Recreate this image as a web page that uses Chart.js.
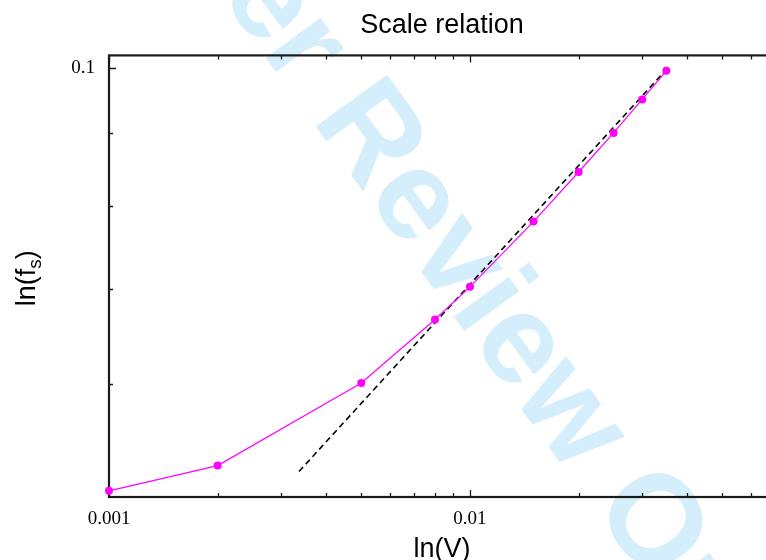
<!DOCTYPE html>
<html>
<head>
<meta charset="utf-8">
<title>Scale relation</title>
<script src="https://cdn.jsdelivr.net/npm/chart.js@4"></script>
<style>
  html, body { margin: 0; padding: 0; background: #fff; overflow: hidden; }
  #wrap { width: 884px; height: 560px; }
</style>
</head>
<body>
<div id="wrap"><canvas id="chart" width="884" height="560"></canvas></div>
<script>
// measured series
const volume = [0.001, 0.002, 0.005, 0.008, 0.01, 0.015, 0.02, 0.025, 0.03, 0.035];
const frequency = [0.0505, 0.0526, 0.0601, 0.0666, 0.0702, 0.078, 0.0845, 0.09, 0.095, 0.0995];

// power-law fit, drawn between its two end points
const fitVolume = [0.00336, 0.035];
const fitFrequency = [0.0521, 0.0997];

// axis ranges and tick marks
const xRange = [0.001, 0.07];
const yRange = [0.05, 0.102];
const xMajorTicks = [0.001, 0.01];
const xMinorTicks = [0.002, 0.003, 0.004, 0.005, 0.006, 0.007, 0.008, 0.009, 0.02, 0.03, 0.04, 0.05, 0.06];
const yMajorTicks = [0.1];
const yMinorTicks = [0.06, 0.07, 0.08, 0.09];

const toPoints = (xs, ys) => xs.map((x, i) => ({ x, y: ys[i] }));

const AXIS_COLOR = "#1a1a1a";
const SANS = '"Liberation Sans", Arial, sans-serif';
const SERIF = '"Liberation Serif", "Times New Roman", serif';

// faint diagonal stamp behind the plot
const stampPlugin = {
    id: "stamp",
    beforeDraw(chart) {
        const ctx = chart.ctx;
        const size = 128;
        ctx.save();
        ctx.translate(375, 130);
        ctx.rotate((54 * Math.PI) / 180);
        ctx.font = `bold ${size}px ${SANS}`;
        ctx.fillStyle = "rgb(213, 238, 251)";
        ctx.textBaseline = "alphabetic";
        const pre = ctx.measureText("For Peer ").width;
        const r = ctx.measureText("R").width;
        ctx.fillText("For Peer Review Only", -pre - r / 2, size * 0.358);
        ctx.restore();
    },
};

// boxed frame with inward ticks on every side
const framePlugin = {
    id: "frame",
    beforeDatasetsDraw(chart) {
        const { ctx, chartArea: a, scales } = chart;
        const xs = scales.x;
        const ys = scales.y;
        ctx.save();
        ctx.strokeStyle = AXIS_COLOR;
        ctx.lineWidth = 1.3;
        const xTick = (v, len) => {
            const px = Math.round(xs.getPixelForValue(v)) + 0.5;
            ctx.beginPath();
            ctx.moveTo(px, a.bottom);
            ctx.lineTo(px, a.bottom - len);
            ctx.moveTo(px, a.top);
            ctx.lineTo(px, a.top + len);
            ctx.stroke();
        };
        const yTick = (v, len) => {
            const py = Math.round(ys.getPixelForValue(v)) + 0.5;
            ctx.beginPath();
            ctx.moveTo(a.left, py);
            ctx.lineTo(a.left + len, py);
            ctx.moveTo(a.right, py);
            ctx.lineTo(a.right - len, py);
            ctx.stroke();
        };
        xMajorTicks.forEach((v) => xTick(v, 7));
        xMinorTicks.forEach((v) => xTick(v, 4));
        yMajorTicks.forEach((v) => yTick(v, 7));
        yMinorTicks.forEach((v) => yTick(v, 4));
        ctx.lineWidth = 2.2;
        ctx.strokeRect(a.left, a.top, a.right - a.left, a.bottom - a.top);
        ctx.restore();
    },
    afterDraw(chart) {
        // y title with subscript
        const { ctx, chartArea: a } = chart;
        ctx.save();
        ctx.translate(35, (a.top + a.bottom) / 2 + 2);
        ctx.rotate(-Math.PI / 2);
        ctx.fillStyle = "#000";
        ctx.textBaseline = "alphabetic";
        const big = `27px ${SANS}`;
        const small = `19px ${SANS}`;
        ctx.font = big;
        const w1 = ctx.measureText("ln(f").width;
        const w3 = ctx.measureText(")").width;
        ctx.font = small;
        const w2 = ctx.measureText("s").width;
        let x = -(w1 + w2 + w3) / 2;
        ctx.font = big;
        ctx.fillText("ln(f", x, 0);
        x += w1;
        ctx.font = small;
        ctx.fillText("s", x, 6);
        x += w2;
        ctx.font = big;
        ctx.fillText(")", x, 0);
        ctx.restore();
    },
};

const chart = new Chart(document.getElementById("chart"), {
    type: "scatter",
    data: {
        datasets: [
            {
                label: "data",
                data: toPoints(volume, frequency),
                showLine: true,
                borderColor: "#ff00ff",
                borderWidth: 1.2,
                backgroundColor: "#ff00ff",
                pointRadius: 4,
                pointBorderWidth: 0,
                pointHoverRadius: 4,
                clip: false,
            },
            {
                label: "fit",
                data: toPoints(fitVolume, fitFrequency),
                showLine: true,
                borderColor: "#000",
                borderWidth: 1.6,
                borderDash: [6, 4],
                pointRadius: 0,
                pointHoverRadius: 0,
            },
        ],
    },
    options: {
        responsive: false,
        devicePixelRatio: 1,
        animation: false,
        layout: { padding: 0 },
        plugins: {
            legend: { display: false },
            tooltip: { enabled: false },
            title: {
                display: true,
                text: "Scale relation",
                color: "#000",
                font: { family: SANS, size: 27, weight: "normal", lineHeight: 1.2 },
                padding: { top: 9, bottom: 14 },
            },
        },
        scales: {
            x: {
                type: "logarithmic",
                min: xRange[0],
                max: xRange[1],
                grid: { display: false },
                border: { display: false },
                afterBuildTicks: (scale) => {
                    scale.ticks = xMajorTicks.map((value) => ({ value }));
                },
                afterFit: (scale) => {
                    scale.height = 63;
                },
                ticks: {
                    autoSkip: false,
                    maxRotation: 0,
                    padding: 3,
                    color: "#000",
                    font: { family: SERIF, size: 19 },
                    callback: (v) => String(v),
                },
                title: {
                    display: true,
                    text: "ln(V)",
                    color: "#000",
                    font: { family: SANS, size: 27, lineHeight: 0.8 },
                    padding: { top: 0, bottom: 0 },
                },
            },
            y: {
                type: "logarithmic",
                min: yRange[0],
                max: yRange[1],
                grid: { display: false },
                border: { display: false },
                afterBuildTicks: (scale) => {
                    scale.ticks = yMajorTicks.map((value) => ({ value }));
                },
                afterFit: (scale) => {
                    scale.width = 109;
                },
                ticks: {
                    autoSkip: false,
                    padding: 6,
                    color: "#000",
                    font: { family: SERIF, size: 19 },
                    callback: (v) => String(v),
                },
            },
            // empty right-hand margin, same width as the left axis
            y2: {
                type: "logarithmic",
                position: "right",
                min: yRange[0],
                max: yRange[1],
                grid: { display: false },
                border: { display: false },
                ticks: { display: false },
                afterFit: (scale) => {
                    scale.width = 109;
                },
            },
        },
    },
    plugins: [stampPlugin, framePlugin],
});
</script>
</body>
</html>
